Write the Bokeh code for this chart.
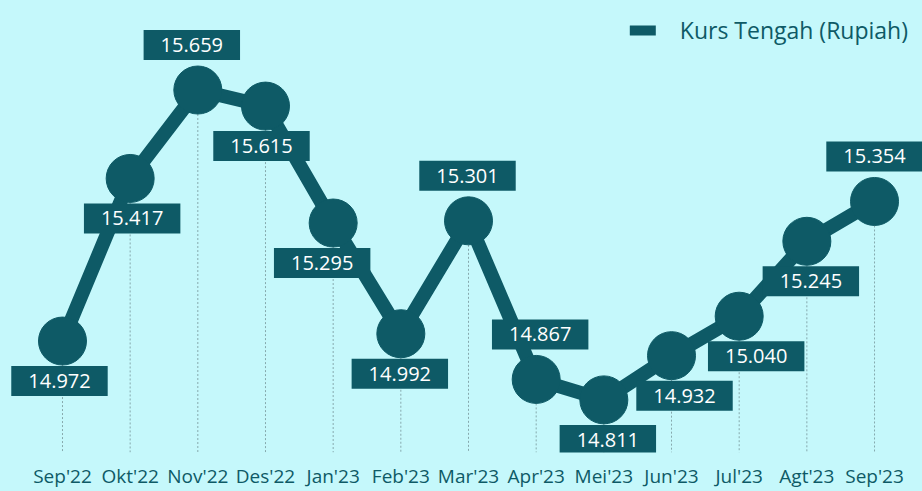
from bokeh.plotting import figure
from bokeh.models import ColumnDataSource, FixedTicker, Legend, LegendItem
from bokeh.embed import file_html
from bokeh.resources import INLINE
from bokeh.core.properties import value

# ---- data ----
months = ["Sep'22", "Okt'22", "Nov'22", "Des'22", "Jan'23", "Feb'23", "Mar'23",
          "Apr'23", "Mei'23", "Jun'23", "Jul'23", "Agt'23", "Sep'23"]
kurs = [14972, 15417, 15659, 15615, 15295, 14992, 15301,
        14867, 14811, 14932, 15040, 15245, 15354]
series_name = "Kurs Tengah (Rupiah)"

# ---- styles (label placement) ----
label_side = ["below", "below", "above", "below", "below", "below", "above",
              "above", "below", "below", "below", "below", "above"]
label_dx = [-3, 2, -6, -4, -11, -1, -1, 4, 4, 13, 17, 4, 0]

BG = "#c5f8fb"
TEAL = "#0e5a66"
FONT = "Open Sans"

xs = list(range(len(months)))
labels = [f"{v:,}".replace(",", ".") for v in kurs]
dy = [40 if s == "below" else -45 for s in label_side]

src = ColumnDataSource(dict(x=xs, y=kurs, lab=labels, dx=label_dx, dy=dy))

p = figure(width=922, height=491, output_backend="svg", toolbar_location=None,
           x_range=(-0.916, 12.709), y_range=(14667, 15904),
           min_border_left=0, min_border_right=0, min_border_top=0, min_border_bottom=0)
p.background_fill_color = BG
p.border_fill_color = BG
p.outline_line_color = None
p.grid.visible = False
p.yaxis.visible = False

ax = p.xaxis[0]
ax.ticker = FixedTicker(ticks=xs)
ax.major_label_overrides = {i: m for i, m in zip(xs, months)}
ax.axis_line_color = None
ax.major_tick_line_color = None
ax.minor_tick_line_color = None
ax.major_tick_out = 0
ax.major_tick_in = 0
ax.minor_tick_out = 0
ax.minor_tick_in = 0
ax.major_label_standoff = 10
ax.major_label_text_font = FONT
ax.major_label_text_font_size = "19px"
ax.major_label_text_color = TEAL

# dotted drop lines
base = [14667] * len(xs)
p.segment(x0=xs, y0=kurs, x1=xs, y1=base, line_color="#86a9ad",
          line_width=1, line_dash="2 2")

# thinner copy under the main line: used only for the legend swatch
leg_r = p.line("x", "y", source=src, line_color=TEAL, line_width=10, line_cap="round")
p.line("x", "y", source=src, line_color=TEAL, line_width=14,
       line_join="round", line_cap="round")
p.scatter("x", "y", source=src, size=48, fill_color=TEAL, line_color=TEAL)

p.text("x", "y", text="lab", source=src, x_offset="dx", y_offset="dy",
       text_align="center", text_baseline="middle",
       text_font=value(FONT), text_font_size="20px", text_color="white",
       background_fill_color=TEAL, padding=(17, 8))

legend = Legend(items=[LegendItem(label=series_name, renderers=[leg_r])],
                location="top_right")
legend.background_fill_alpha = 0
legend.border_line_color = None
legend.label_text_font = FONT
legend.label_text_font_size = "23px"
legend.label_text_color = TEAL
legend.glyph_width = 26
legend.glyph_height = 20
legend.label_standoff = 24
legend.margin = 14
legend.padding = 7
p.add_layout(legend)

html = file_html(p, INLINE)
html = html.replace("</head>",
                    "<style>html,body{margin:0;padding:0;background-color:%s;}</style></head>" % BG, 1)
open("out.html", "w").write(html)
